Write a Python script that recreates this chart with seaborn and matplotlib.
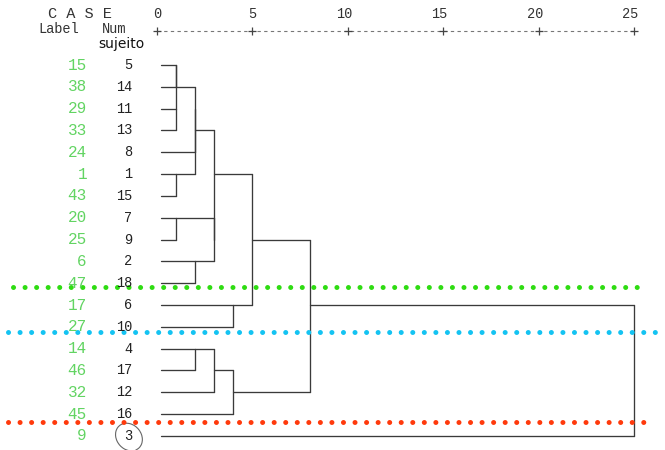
import matplotlib
matplotlib.use("Agg")
import matplotlib.pyplot as plt
from matplotlib.patches import Arc
import pandas as pd
import seaborn as sns

# cases in dendrogram order, top to bottom
case_num = [5, 14, 11, 13, 8, 1, 15, 7, 9, 2, 18, 6, 10, 4, 17, 12, 16, 3]
case_label = [15, 38, 29, 33, 24, 1, 43, 20, 25, 6, 47, 17, 27, 14, 46, 32, 45, 9]

# agglomeration schedule: (cluster a, cluster b, rescaled distance)
# "cN" = case N, "mK" = cluster made at step K
merges = [
    ("c5", "c14", 1),
    ("c11", "c13", 1),
    ("m0", "m1", 1),
    ("c1", "c15", 1),
    ("c7", "c9", 1),
    ("m2", "c8", 2),
    ("m5", "m3", 2),
    ("c2", "c18", 2),
    ("c4", "c17", 2),
    ("m4", "m7", 3),
    ("m6", "m9", 3),
    ("m8", "c12", 3),
    ("c6", "c10", 4),
    ("m11", "c16", 4),
    ("m10", "m12", 5),
    ("m14", "m13", 8),
    ("m15", "c3", 25),
]

scale_ticks = [0, 5, 10, 15, 20, 25]

# hand drawn cut lines (row position, colour)
cut_rows = [10.16, 12.22, 16.37]
cut_colors = ["#2fdc12", "#14c3f2", "#ff3a0c"]


def dendrogram_segments():
    row = {f"c{c}": i for i, c in enumerate(case_num)}
    height = {f"c{c}": 0.2 for c in case_num}
    recs = []
    seg = 0
    for k, (a, b, d) in enumerate(merges):
        for ch in (a, b):
            recs += [(seg, height[ch], row[ch]), (seg, d, row[ch])]
            seg += 1
        recs += [(seg, d, row[a]), (seg, d, row[b])]
        seg += 1
        row[f"m{k}"] = (row[a] + row[b]) // 2
        height[f"m{k}"] = d
    return pd.DataFrame(recs, columns=["seg", "x", "y"])


sns.set_theme(style="white")
plt.rcParams["font.family"] = ["DejaVu Sans"]
mono = "Liberation Mono"

fig = plt.figure(figsize=(6.65, 4.5), dpi=100)
ax = fig.add_axes([0, 0, 1, 1])

df = dendrogram_segments()
sns.lineplot(data=df, x="x", y="y", units="seg", estimator=None, sort=False,
             color="#3a3a3a", lw=0.95, legend=False, ax=ax)

# labels
for i, (lab, num) in enumerate(zip(case_label, case_num)):
    ax.text(-3.67, i, str(lab), ha="right", va="center", color="#62d462",
            family=mono, fontsize=11.5)
    ax.text(-1.31, i, str(num), ha="right", va="center", color="#222222",
            family=mono, fontsize=9.8)

# header
ax.text(-5.71, -2.34, "C A S E", ha="left", va="center", family=mono,
        fontsize=11, color="#333333")
ax.text(-6.24, -1.64, "Label", ha="left", va="center", family=mono,
        fontsize=9.8, color="#333333")
ax.text(-2.88, -1.64, "Num", ha="left", va="center", family=mono,
        fontsize=9.8, color="#333333")
ax.text(-3.06, -0.78, "sujeito", ha="left", va="baseline", fontsize=10,
        color="#111111")
for t in scale_ticks:
    ax.text(t + 0.22, -2.34, str(t), ha="right", va="center", family=mono,
            fontsize=9.8, color="#333333")
ax.plot([0, 25], [-1.56, -1.56], color="#777777", lw=0.8, ls=(0, (3, 3)))
ax.plot(scale_ticks, [-1.56] * len(scale_ticks), "+", color="#444444",
        ms=6, mew=0.9)

# cut lines
cut_x = [(-7.55, 25.68), (-7.81, 26.7), (-7.81, 25.94)]
for r, c, (x0, x1) in zip(cut_rows, cut_colors, cut_x):
    ax.plot([x0, x1], [r, r], color=c, lw=3.6, ls=(0, (0.01, 2.3)),
            dash_capstyle="round")

# circle around case 3
ax.add_patch(Arc((-1.47, 17.05), 1.47, 1.19, angle=30, theta1=60, theta2=390,
                 color="#666666", lw=0.8))

ax.set_xlim(-157 / 19.08, (665 - 157) / 19.08)
ax.set_ylim((450 - 65) / 21.82, -65 / 21.82)
ax.axis("off")

fig.savefig("out.png", dpi=100)
